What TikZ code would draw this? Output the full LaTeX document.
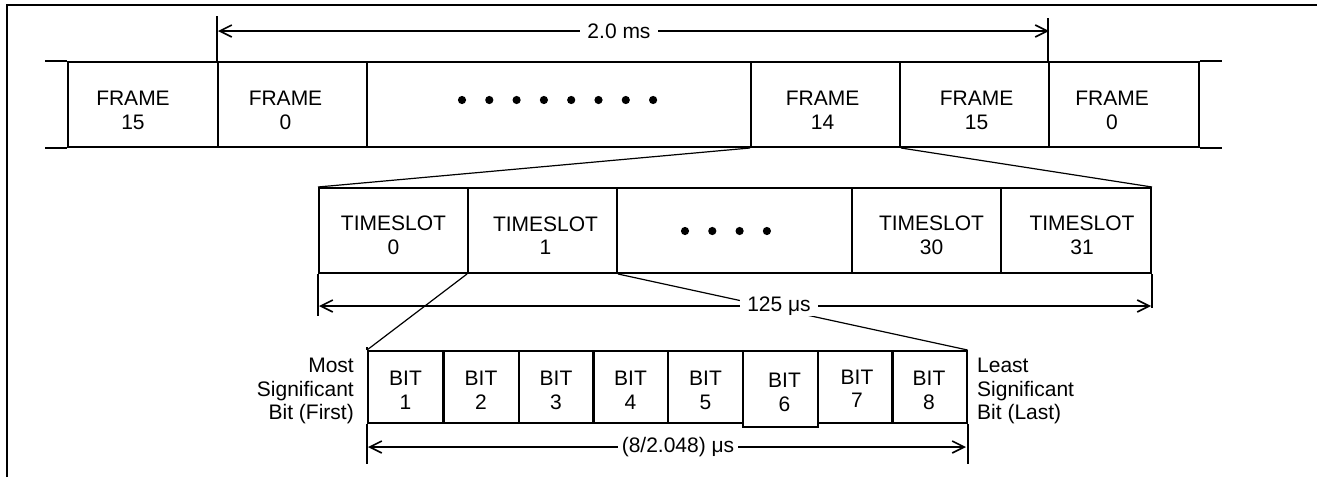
\documentclass[tikz,border=0pt]{standalone}
\usepackage{fontspec}
\setmainfont{Liberation Sans}
\usetikzlibrary{arrows.meta}
\begin{document}
\begin{tikzpicture}[x=1pt,y=-1pt,
  txt/.style={font=\fontsize{21}{23.5}\selectfont, inner sep=0pt, align=center},
  cell/.style={draw, line width=2pt, inner sep=0pt},
  fcell/.style={cell, minimum height=85pt},
  bcell/.style={cell, minimum height=72pt, minimum width=75pt},
  rule/.style={line width=2pt},
  fan/.style={line width=1.2pt},
  ext/.style={line width=2pt},
  dimline/.style={line width=1.6pt, {Straight Barb[length=12pt,width=12pt]}-{Straight Barb[length=12pt,width=12pt]}},
  dimlbl/.style={font=\fontsize{21}{23.5}\selectfont, fill=white, inner sep=0pt, inner xsep=7pt, minimum height=20pt},
  dot/.style={fill=black}
]
\useasboundingbox (0,0) rectangle (1317,477);
% outer partial frame
\draw[rule] (7,477) -- (7,5) -- (1317,5);

% ---------- frame row ----------
\node[fcell, minimum width=150pt] (f15a) at (143,104.5) {};
\node[fcell, minimum width=149pt] (f0a)  at (292.5,104.5) {};
\node[fcell, minimum width=384pt] (fdots) at (559,104.5) {};
\node[fcell, minimum width=149pt] (f14)  at (825.5,104.5) {};
\node[fcell, minimum width=149pt] (f15b) at (974.5,104.5) {};
\node[fcell, minimum width=150pt] (f0b)  at (1124,104.5) {};
\draw[rule] (f15a.north west) -- ++(-22,0);
\draw[rule] (f15a.south west) -- ++(-22,0);
\draw[rule] (f0b.north east) -- ++(22,0);
\draw[rule] (f0b.south east) -- ++(22,0);
\node[txt] (tf15a) at ([xshift=-10pt,yshift=-6pt]f15a.center) {FRAME\\15};
\node[txt] (tf0a)  at ([xshift=-7pt,yshift=-6pt]f0a.center) {FRAME\\0};
\node[txt] (tf14)  at ([xshift=-3pt,yshift=-6pt]f14.center) {FRAME\\14};
\node[txt] (tf15b) at ([xshift=2pt,yshift=-6pt]f15b.center) {FRAME\\15};
\node[txt] (tf0b)  at ([xshift=-12pt,yshift=-6pt]f0b.center) {FRAME\\0};
\foreach \i in {0,...,7} \fill[dot] (462+\i*27.3,100) circle (4.1pt);

% 2.0 ms dimension
\draw[ext] (f0a.north west) -- ++(0,-45) coordinate (e1);
\draw[ext] (f0b.north west) -- ++(0,-43) coordinate (e2);
\coordinate (a1) at (218,31);
\coordinate (a2) at (1049,31);
\draw[dimline] (a1) -- (a2);
\node[dimlbl] (l1) at (619,31) {2.0 ms};

% ---------- timeslot row ----------
\node[fcell, minimum width=149pt] (ts0)  at (393.5,230.5) {};
\node[fcell, minimum width=149pt] (ts1)  at (542.5,230.5) {};
\node[fcell, minimum width=235pt] (tsd)  at (734.5,230.5) {};
\node[fcell, minimum width=149pt] (ts30) at (926.5,230.5) {};
\node[fcell, minimum width=150pt] (ts31) at (1076,230.5) {};
\node[txt] (tts0)  at ([yshift=-5pt]ts0.center) {TIMESLOT\\0};
\node[txt] (tts1)  at ([xshift=3pt,yshift=-5pt]ts1.center) {TIMESLOT\\1};
\node[txt] (tts30) at ([xshift=5pt,yshift=-5pt]ts30.center) {TIMESLOT\\30};
\node[txt] (tts31) at ([xshift=6pt,yshift=-5pt]ts31.center) {TIMESLOT\\31};
\foreach \i in {0,...,3} \fill[dot] (685+\i*27.3,231) circle (4.1pt);

% fan lines frame 14 -> timeslots
\draw[fan] (f14.south west) -- (ts0.north west);
\draw[fan] (f14.south east) -- (ts31.north east);

% ---------- bit row ----------
\node[bcell] (b1) at (405.5,387) {};
\node[bcell] (b2) at (481,387) {};
\node[bcell] (b3) at (556,387) {};
\node[bcell] (b4) at (630.5,387) {};
\node[bcell] (b5) at (705.5,387) {};
\node[bcell, minimum height=76pt] (b6) at (780.5,389) {};
\node[bcell] (b7) at (855,387) {};
\node[bcell] (b8) at (929,387) {};
\foreach \n in {1,2,3,4,5,8} \node[txt] (tb\n) at ([yshift=-3.5pt]b\n.center) {BIT\\\n};
\node[txt] (tb6) at ([xshift=4pt,yshift=-3.5pt]b6.center) {BIT\\6};
\node[txt] (tb7) at ([xshift=2pt,yshift=-2pt]b7.center) {BIT\\7};

% fan lines timeslot 1 -> bits
\draw[fan] (ts1.south west) -- (b1.north west);
\draw[fan] (ts1.south east) -- (b8.north east);

% 125 us dimension
\draw[ext] (ts0.south west) -- ++(0,42) coordinate (e3);
\draw[ext] (ts31.south east) -- ++(0,34) coordinate (e4);
\coordinate (a3) at (319,306);
\coordinate (a4) at (1151,306);
\draw[dimline] (a3) -- (a4);
\node[dimlbl] (l2) at (779,306) {125 μs};

% bits dimension
\draw[ext] (b1.north west) -- ++(0,-3);
\draw[ext] (b1.south west) -- ++(0,40) coordinate (e5);
\draw[ext] (b8.south east) -- ++(0,40) coordinate (e6);
\coordinate (a5) at (368,447);
\coordinate (a6) at (966,447);
\draw[dimline] (a5) -- (a6);
\node[dimlbl, inner xsep=4pt] (l3) at (678,447) {(8/2.048) μs};

% side labels
\node[txt, align=right, anchor=east] (msb) at (354,391) {Most\\Significant\\Bit (First)};
\node[txt, align=left, anchor=west] (lsb) at (977,391) {Least\\Significant\\Bit (Last)};
\end{tikzpicture}
\end{document}
